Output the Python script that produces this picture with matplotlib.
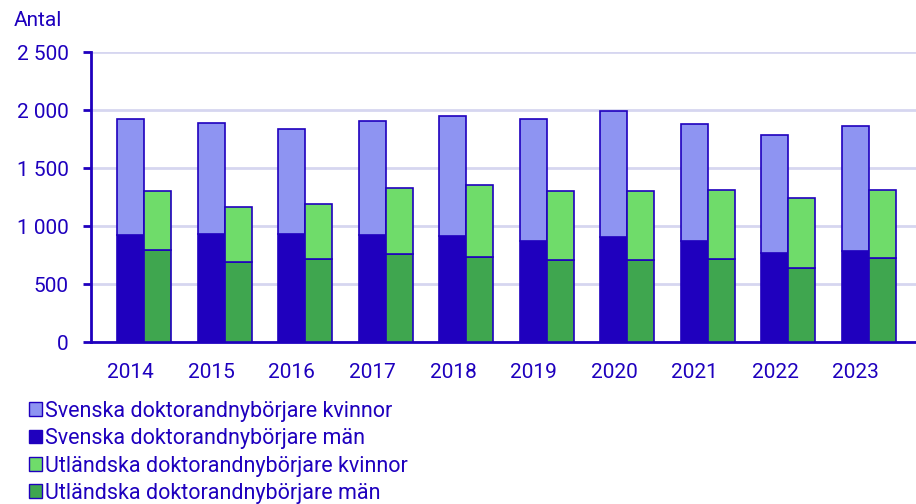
import numpy as np
import matplotlib.pyplot as plt
from matplotlib.patches import Patch

plt.rcParams['font.family'] = ['Roboto', 'DejaVu Sans']

years = ["2014", "2015", "2016", "2017", "2018", "2019", "2020", "2021", "2022", "2023"]
sv_man = [922, 930, 928, 922, 916, 870, 904, 873, 763, 783]
sv_kvinnor = [999, 957, 907, 982, 1028, 1051, 1089, 1008, 1020, 1077]
utl_man = [792, 691, 717, 760, 734, 706, 703, 714, 637, 723]
utl_kvinnor = [507, 473, 473, 568, 622, 599, 596, 597, 602, 585]

labels = ["Svenska doktorandnybörjare kvinnor", "Svenska doktorandnybörjare män",
          "Utländska doktorandnybörjare kvinnor", "Utländska doktorandnybörjare män"]

c_text = "#1e00be"
c_svk = "#8e94f2"
c_svm = "#1f00be"
c_utk = "#6fdc6a"
c_utm = "#3fa64f"
c_grid = "#d6d6f0"
fs = 15

fig = plt.figure(figsize=(9.16, 5.04), dpi=100)
ax = fig.add_axes([91 / 916, 1 - 342 / 504, 1 - 91 / 916, (342 - 52) / 504])

x = np.arange(len(years))
w = 27 / 80.5
ax.bar(x - w / 2, sv_man, w, color=c_svm, edgecolor=c_svm, linewidth=1.2, zorder=3)
ax.bar(x - w / 2, sv_kvinnor, w, bottom=sv_man, color=c_svk, edgecolor=c_svm, linewidth=1.2, zorder=3)
ax.bar(x + w / 2, utl_man, w, color=c_utm, edgecolor=c_svm, linewidth=1.2, zorder=3)
ax.bar(x + w / 2, utl_kvinnor, w, bottom=utl_man, color=c_utk, edgecolor=c_svm, linewidth=1.2, zorder=3)

ax.set_xlim(-53.3 / 80.5, 9 + 47 / 80.5)
ax.set_ylim(0, 2500)
yt = [0, 500, 1000, 1500, 2000, 2500]
ax.set_yticks(yt)
ax.set_yticklabels([f"{v:,}".replace(",", " ") for v in yt])
ax.set_xticks(x - w / 2)
ax.set_xticklabels(years)
ax.yaxis.grid(True, color=c_grid, linewidth=2, zorder=0)
ax.set_axisbelow(True)

for s in ["top", "right"]:
    ax.spines[s].set_visible(False)
for s in ["left", "bottom"]:
    ax.spines[s].set_color(c_svm)
    ax.spines[s].set_linewidth(2)
ax.tick_params(axis="y", colors=c_svm, labelcolor=c_text, labelsize=fs, length=6, width=2, pad=10)
ax.tick_params(axis="x", length=0, labelcolor=c_text, labelsize=fs, pad=15)

fig.text(14 / 916, 1 - 20 / 504, "Antal", color=c_text, fontsize=fs, va="center", ha="left")

handles = [Patch(facecolor=c_svk, edgecolor=c_svm), Patch(facecolor=c_svm, edgecolor=c_svm),
           Patch(facecolor=c_utk, edgecolor=c_svm), Patch(facecolor=c_utm, edgecolor=c_svm)]
leg = fig.legend(handles, labels, loc="upper left", bbox_to_anchor=(20 / 916, 1 - 392 / 504),
                 frameon=False, fontsize=15.5, handlelength=0.62, handleheight=0.62,
                 handletextpad=0.15, labelspacing=0.3, borderaxespad=0)
for t in leg.get_texts():
    t.set_color(c_text)

fig.savefig("out.png", dpi=100)
